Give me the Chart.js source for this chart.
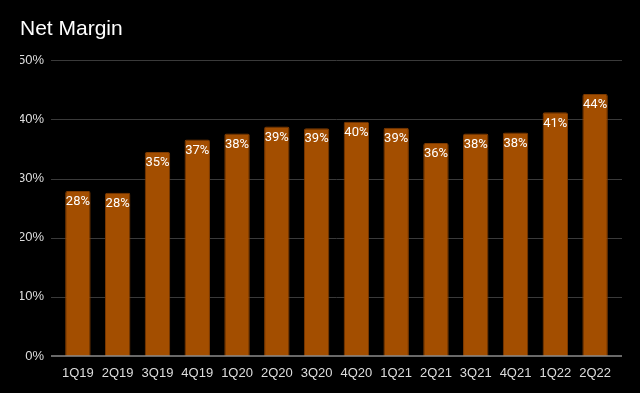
<!DOCTYPE html>
<html>
<head>
<meta charset="utf-8">
<script src="https://cdn.jsdelivr.net/npm/chart.js@4"></script>
<style>
  html, body { margin: 0; padding: 0; background: #000; }
  #wrap { width: 640px; height: 393px; }
</style>
</head>
<body>
<div id="wrap"><canvas id="myChart" width="640" height="393"></canvas></div>
<script>
const quarters = ['1Q19','2Q19','3Q19','4Q19','1Q20','2Q20','3Q20','4Q20','1Q21','2Q21','3Q21','4Q21','1Q22','2Q22'];
const netMargin = [27.9, 27.6, 34.5, 36.6, 37.6, 38.8, 38.5, 39.6, 38.6, 36.0, 37.6, 37.8, 41.2, 44.3];
const yTicks = [0, 10, 20, 30, 40, 50];

const barColor = 'rgb(163,78,0)';

// grid lines run a bit wider than the bars, like the original
const gridLines = {
  id: 'gridLines',
  beforeDatasetsDraw(chart) {
    const {ctx, chartArea, scales} = chart;
    ctx.save();
    ctx.lineWidth = 1;
    ctx.strokeStyle = '#3a3a3a';
    yTicks.forEach(v => {
      if (v === 0) return;
      const y = Math.round(scales.y.getPixelForValue(v)) + 0.5;
      ctx.beginPath();
      ctx.moveTo(chartArea.left - 7, y);
      ctx.lineTo(chartArea.right + 7, y);
      ctx.stroke();
    });
    ctx.restore();
  },
  afterDatasetsDraw(chart) {
    const {ctx, chartArea, scales} = chart;
    ctx.save();
    ctx.lineWidth = 1.5;
    ctx.strokeStyle = '#8c8c8c';
    const y = scales.y.getPixelForValue(0);
    ctx.beginPath();
    ctx.moveTo(chartArea.left - 7, y);
    ctx.lineTo(chartArea.right + 7, y);
    ctx.stroke();

    // value labels inside the top of each bar
    const meta = chart.getDatasetMeta(0);
    ctx.fillStyle = '#ffffff';
    ctx.font = '13px Roboto';
    ctx.textAlign = 'center';
    ctx.textBaseline = 'middle';
    meta.data.forEach((bar, i) => {
      ctx.fillText(Math.round(netMargin[i]) + '%', bar.x, bar.y + 11);
    });
    ctx.restore();
  }
};

const ctx = document.getElementById('myChart').getContext('2d');
const myChart = new Chart(ctx, {
  type: 'bar',
  data: {
    labels: quarters,
    datasets: [{
      data: netMargin,
      backgroundColor: barColor,
      borderColor: 'rgb(125,58,0)',
      borderWidth: 1,
      borderRadius: 2,
      borderSkipped: 'bottom',
      categoryPercentage: 1,
      barPercentage: 0.64
    }]
  },
  options: {
    responsive: false,
    animation: false,
    layout: { padding: { left: 20, right: 25, top: 0, bottom: 0 } },
    plugins: {
      legend: { display: false },
      tooltip: { enabled: false },
      title: {
        display: true,
        text: 'Net Margin',
        align: 'start',
        color: '#ffffff',
        font: { family: 'Liberation Sans', size: 21, weight: 'normal' },
        padding: { top: 17, bottom: 18 }
      }
    },
    scales: {
      x: {
        grid: { display: false, drawTicks: false },
        border: { display: false },
        ticks: {
          color: '#dddddd',
          font: { family: 'Liberation Sans', size: 13 },
          padding: 10,
          maxRotation: 0,
          autoSkip: false
        },
        afterFit(scale) { scale.height = 37; }
      },
      y: {
        min: 0,
        max: 50,
        grid: { display: false, drawTicks: false },
        border: { display: false },
        ticks: {
          stepSize: 10,
          color: '#dddddd',
          font: { family: 'Liberation Sans', size: 13 },
          padding: 14,
          callback: v => v + '%'
        },
        afterFit(scale) { scale.width = 38; }
      }
    }
  },
  plugins: [gridLines]
});
</script>
</body>
</html>
